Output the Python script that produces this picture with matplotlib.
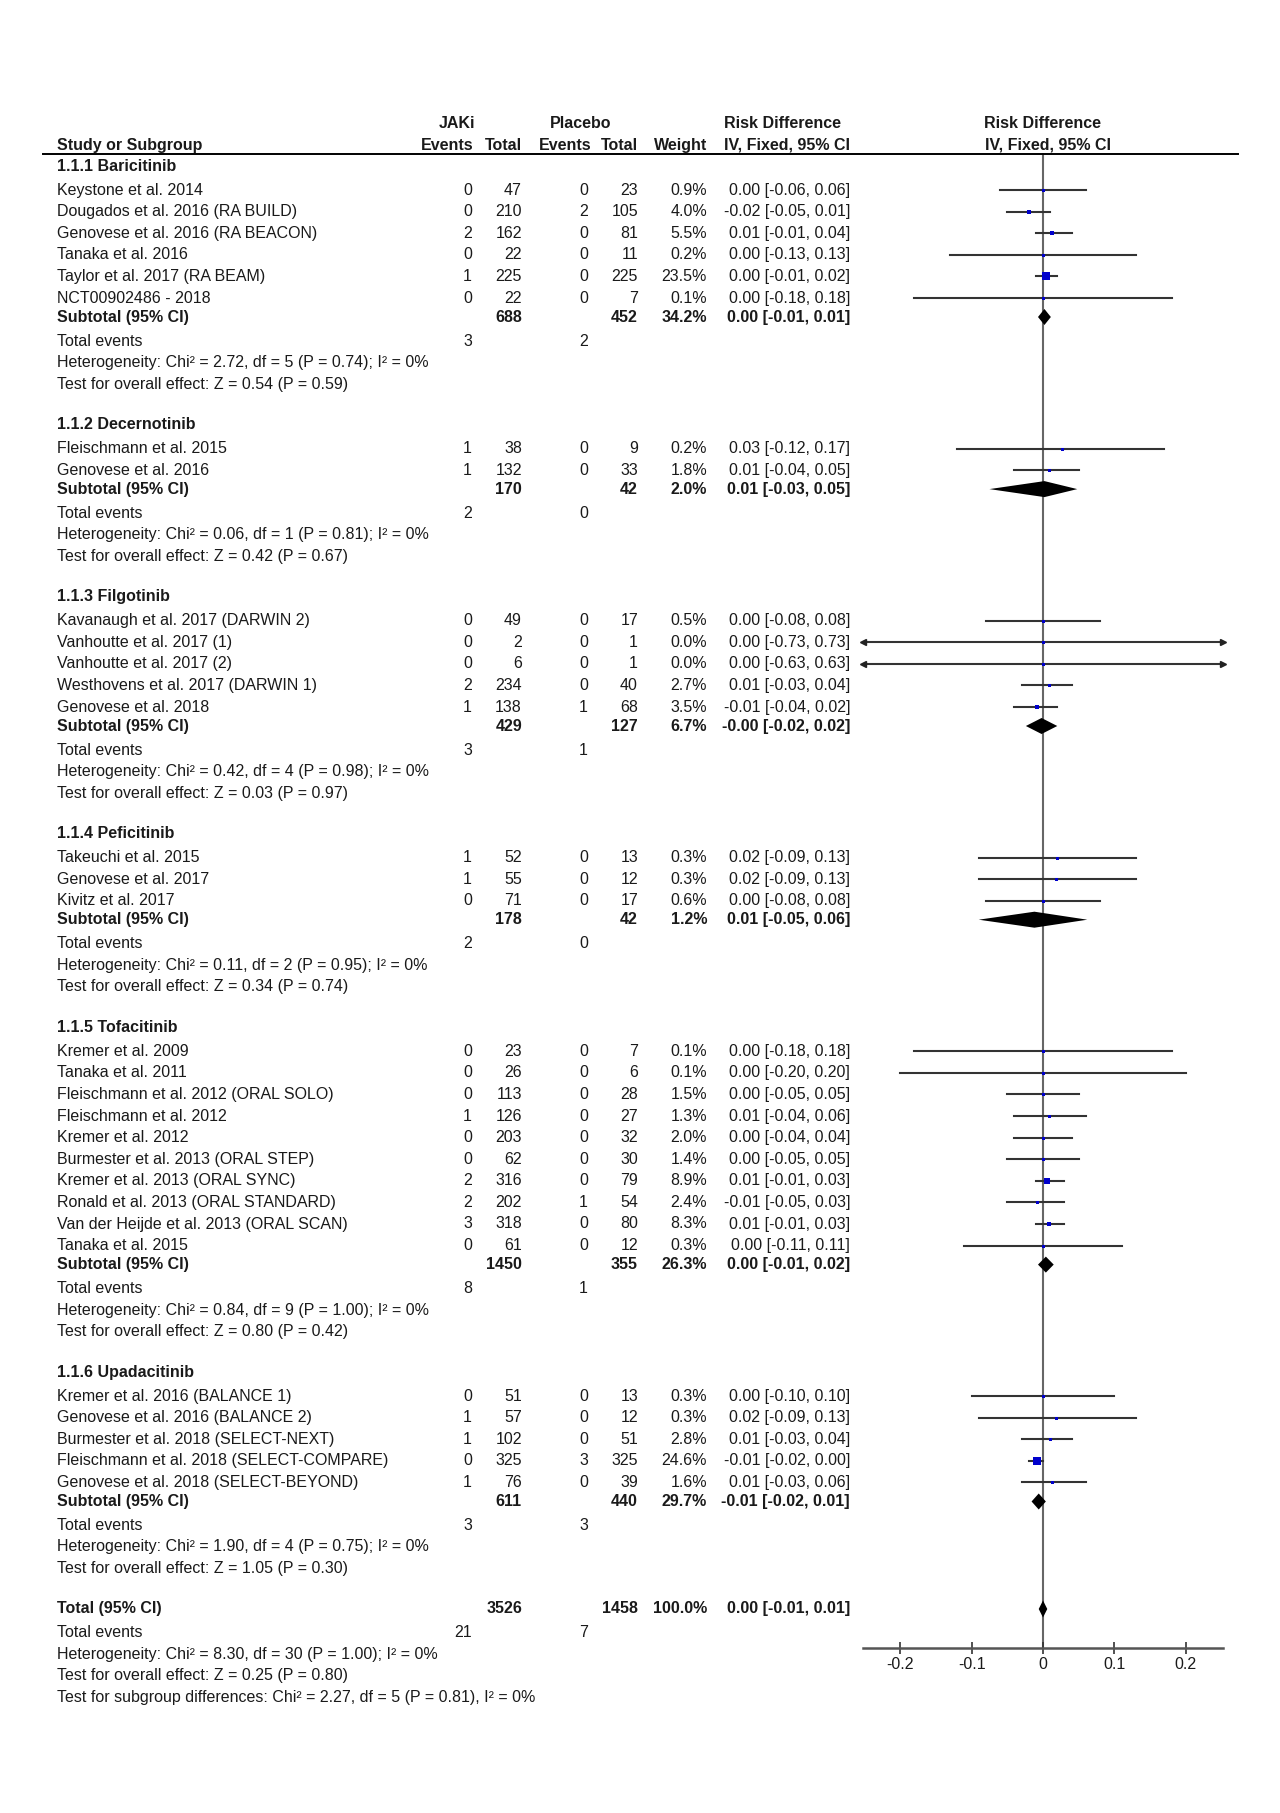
import matplotlib.pyplot as plt
import matplotlib.transforms as mtransforms
import numpy as np

plt.rcParams['font.family'] = ['Liberation Sans', 'DejaVu Sans']

# ---- data ----
group_names = ['1.1.1 Baricitinib', '1.1.2 Decernotinib', '1.1.3 Filgotinib',
               '1.1.4 Peficitinib', '1.1.5 Tofacitinib', '1.1.6 Upadacitinib']
group_sizes = [6, 2, 5, 3, 10, 5]

study_names = [
    'Keystone et al. 2014', 'Dougados et al. 2016 (RA BUILD)', 'Genovese et al. 2016 (RA BEACON)',
    'Tanaka et al. 2016', 'Taylor et al. 2017 (RA BEAM)', 'NCT00902486 - 2018',
    'Fleischmann et al. 2015', 'Genovese et al. 2016',
    'Kavanaugh et al. 2017 (DARWIN 2)', 'Vanhoutte et al. 2017 (1)', 'Vanhoutte et al. 2017 (2)',
    'Westhovens et al. 2017 (DARWIN 1)', 'Genovese et al. 2018',
    'Takeuchi et al. 2015', 'Genovese et al. 2017', 'Kivitz et al. 2017',
    'Kremer et al. 2009', 'Tanaka et al. 2011', 'Fleischmann et al. 2012 (ORAL SOLO)',
    'Fleischmann et al. 2012', 'Kremer et al. 2012', 'Burmester et al. 2013 (ORAL STEP)',
    'Kremer et al. 2013 (ORAL SYNC)', 'Ronald et al. 2013 (ORAL STANDARD)',
    'Van der Heijde et al. 2013 (ORAL SCAN)', 'Tanaka et al. 2015',
    'Kremer et al. 2016 (BALANCE 1)', 'Genovese et al. 2016 (BALANCE 2)',
    'Burmester et al. 2018 (SELECT-NEXT)', 'Fleischmann et al. 2018 (SELECT-COMPARE)',
    'Genovese et al. 2018 (SELECT-BEYOND)',
]
jak_events = [0, 0, 2, 0, 1, 0, 1, 1, 0, 0, 0, 2, 1, 1, 1, 0,
              0, 0, 0, 1, 0, 0, 2, 2, 3, 0, 0, 1, 1, 0, 1]
jak_totals = [47, 210, 162, 22, 225, 22, 38, 132, 49, 2, 6, 234, 138, 52, 55, 71,
              23, 26, 113, 126, 203, 62, 316, 202, 318, 61, 51, 57, 102, 325, 76]
pla_events = [0, 2, 0, 0, 0, 0, 0, 0, 0, 0, 0, 0, 1, 0, 0, 0,
              0, 0, 0, 0, 0, 0, 0, 1, 0, 0, 0, 0, 0, 3, 0]
pla_totals = [23, 105, 81, 11, 225, 7, 9, 33, 17, 1, 1, 40, 68, 13, 12, 17,
              7, 6, 28, 27, 32, 30, 79, 54, 80, 12, 13, 12, 51, 325, 39]
weights = [0.9, 4.0, 5.5, 0.2, 23.5, 0.1, 0.2, 1.8, 0.5, 0.0, 0.0, 2.7, 3.5, 0.3, 0.3, 0.6,
           0.1, 0.1, 1.5, 1.3, 2.0, 1.4, 8.9, 2.4, 8.3, 0.3, 0.3, 0.3, 2.8, 24.6, 1.6]
rd = [0.00, -0.02, 0.01, 0.00, 0.00, 0.00, 0.03, 0.01, 0.00, 0.00, 0.00, 0.01, -0.01,
      0.02, 0.02, 0.00, 0.00, 0.00, 0.00, 0.01, 0.00, 0.00, 0.01, -0.01, 0.01, 0.00,
      0.00, 0.02, 0.01, -0.01, 0.01]
ci_lo = [-0.06, -0.05, -0.01, -0.13, -0.01, -0.18, -0.12, -0.04, -0.08, -0.73, -0.63, -0.03, -0.04,
         -0.09, -0.09, -0.08, -0.18, -0.20, -0.05, -0.04, -0.04, -0.05, -0.01, -0.05, -0.01, -0.11,
         -0.10, -0.09, -0.03, -0.02, -0.03]
ci_hi = [0.06, 0.01, 0.04, 0.13, 0.02, 0.18, 0.17, 0.05, 0.08, 0.73, 0.63, 0.04, 0.02,
         0.13, 0.13, 0.08, 0.18, 0.20, 0.05, 0.06, 0.04, 0.05, 0.03, 0.03, 0.03, 0.11,
         0.10, 0.13, 0.04, 0.00, 0.06]
# marker positions as seen in the plot (unrounded)
rd_point = [0.000, -0.019, 0.012, 0.000, 0.004, 0.000, 0.026, 0.008, 0.000, 0.000, 0.000,
            0.009, -0.008, 0.019, 0.018, 0.000, 0.000, 0.000, 0.000, 0.008, 0.000, 0.000,
            0.006, -0.009, 0.009, 0.000, 0.000, 0.018, 0.010, -0.009, 0.013]

sub_jak_totals = [688, 170, 429, 178, 1450, 611]
sub_pla_totals = [452, 42, 127, 42, 355, 440]
sub_jak_events = [3, 2, 3, 2, 8, 3]
sub_pla_events = [2, 0, 1, 0, 1, 3]
sub_weights = [34.2, 2.0, 6.7, 1.2, 26.3, 29.7]
sub_rd = [0.00, 0.01, -0.0, 0.01, 0.00, -0.01]
sub_lo = [-0.01, -0.03, -0.02, -0.05, -0.01, -0.02]
sub_hi = [0.01, 0.05, 0.02, 0.06, 0.02, 0.01]
# diamond extents as drawn in the picture
dia_lo = [-0.007, -0.075, -0.024, -0.09, -0.007, -0.016]
dia_mid = [0.002, 0.002, -0.002, -0.012, 0.004, -0.006]
dia_hi = [0.011, 0.048, 0.020, 0.062, 0.015, 0.004]
het_chi = [2.72, 0.06, 0.42, 0.11, 0.84, 1.90]
het_df = [5, 1, 4, 2, 9, 4]
het_p = [0.74, 0.81, 0.98, 0.95, 1.00, 0.75]
het_i2 = [0, 0, 0, 0, 0, 0]
z_vals = [0.54, 0.42, 0.03, 0.34, 0.80, 1.05]
z_p = [0.59, 0.67, 0.97, 0.74, 0.42, 0.30]

tot_jak, tot_pla = 3526, 1458
tot_jak_ev, tot_pla_ev = 21, 7
tot_weight = 100.0
tot_rd, tot_lo, tot_hi = 0.00, -0.01, 0.01
tot_dia = (-0.006, 0.000, 0.006)
tot_chi, tot_df, tot_p, tot_i2 = 8.30, 30, 1.00, 0
tot_z, tot_zp = 0.25, 0.80
sg_chi, sg_df, sg_p, sg_i2 = 2.27, 5, 0.81, 0

xticks = [-0.2, -0.1, 0, 0.1, 0.2]
xticklabels = ['-0.2', '-0.1', '0', '0.1', '0.2']

# ---- layout (pixel units) ----
W, H = 1280, 1813
FS = 11.5
TXT = '#1a1a1a'
COL_NAME, COL_JE, COL_JT, COL_PE, COL_PT, COL_W, COL_RD = 57, 472, 522, 588, 638, 707, 850

fig = plt.figure(figsize=(W / 100, H / 100), dpi=100)
ax_top, ax_bot = 153, 1648
ax = fig.add_axes([863 / W, 1 - ax_bot / H, 360 / W, (ax_bot - ax_top) / H])
ax.set_xlim(-0.252, 0.252)
ax.set_ylim(ax_bot, ax_top)
tr = mtransforms.blended_transform_factory(fig.transFigure, ax.transData)


def put(x, y, s, ha='left', bold=False):
    ax.text(x / W, y, s, transform=tr, ha=ha, va='center', fontsize=FS,
            fontweight='bold' if bold else 'normal', color=TXT, clip_on=False)


def diamond(y, lo, mid, hi, h=8):
    ax.fill([lo, mid, hi, mid], [y, y - h, y, y + h], color='black', lw=0, zorder=4)


def stats_rows(y, je, pe, chi, df, p, i2, z, zp):
    put(COL_NAME, y, 'Total events')
    put(COL_JE, y, str(je), ha='right')
    put(COL_PE, y, str(pe), ha='right')
    y += 21.5
    put(COL_NAME, y, f'Heterogeneity: Chi\u00b2 = {chi:.2f}, df = {df} (P = {p:.2f}); I\u00b2 = {i2}%')
    y += 21.5
    put(COL_NAME, y, f'Test for overall effect: Z = {z:.2f} (P = {zp:.2f})')
    return y


# header
put(457, 123, 'JAKi', ha='center', bold=True)
put(581, 123, 'Placebo', ha='center', bold=True)
put(782, 123, 'Risk Difference', ha='center', bold=True)
put(1042, 123, 'Risk Difference', ha='center', bold=True)
put(COL_NAME, 145, 'Study or Subgroup', bold=True)
put(474, 145, 'Events', ha='right', bold=True)
put(COL_JT, 145, 'Total', ha='right', bold=True)
put(591, 145, 'Events', ha='right', bold=True)
put(COL_PT, 145, 'Total', ha='right', bold=True)
put(COL_W, 145, 'Weight', ha='right', bold=True)
put(787, 145, 'IV, Fixed, 95% CI', ha='center', bold=True)
put(1048, 145, 'IV, Fixed, 95% CI', ha='center', bold=True)
ax.plot([43 / W, 1238 / W], [153.5, 153.5], transform=tr, color='black', lw=1.4, clip_on=False)

xmin, xmax = ax.get_xlim()
y = 166
i = 0
for g, n in enumerate(group_sizes):
    put(COL_NAME, y, group_names[g], bold=True)
    y += 24
    for k in range(n):
        if k > 0:
            y += 21.6
        put(COL_NAME, y, study_names[i])
        put(COL_JE, y, str(jak_events[i]), ha='right')
        put(COL_JT, y, str(jak_totals[i]), ha='right')
        put(COL_PE, y, str(pla_events[i]), ha='right')
        put(COL_PT, y, str(pla_totals[i]), ha='right')
        put(COL_W, y, f'{weights[i]:.1f}%', ha='right')
        put(COL_RD, y, f'{rd[i]:.2f} [{ci_lo[i]:.2f}, {ci_hi[i]:.2f}]', ha='right')
        lo, hi = max(ci_lo[i], xmin), min(ci_hi[i], xmax)
        ax.plot([lo, hi], [y, y], color='#333333', lw=1.5, zorder=2)
        if ci_lo[i] < xmin:
            ax.plot(lo, y, marker='<', ms=5, color='#222222', clip_on=False, zorder=3)
        if ci_hi[i] > xmax:
            ax.plot(hi, y, marker='>', ms=5, color='#222222', clip_on=False, zorder=3)
        side = max(3.0, 1.7 * np.sqrt(weights[i]))
        ax.plot(rd_point[i], y, marker='s', ms=side * 0.72, color='#0000cc', mew=0, zorder=4)
        i += 1
    y += 19
    put(COL_NAME, y, 'Subtotal (95% CI)', bold=True)
    put(COL_JT, y, str(sub_jak_totals[g]), ha='right', bold=True)
    put(COL_PT, y, str(sub_pla_totals[g]), ha='right', bold=True)
    put(COL_W, y, f'{sub_weights[g]:.1f}%', ha='right', bold=True)
    put(COL_RD, y, f'{sub_rd[g]:.2f} [{sub_lo[g]:.2f}, {sub_hi[g]:.2f}]', ha='right', bold=True)
    diamond(y, dia_lo[g], dia_mid[g], dia_hi[g])
    y += 24
    y = stats_rows(y, sub_jak_events[g], sub_pla_events[g], het_chi[g], het_df[g], het_p[g],
                   het_i2[g], z_vals[g], z_p[g])
    y += 40.5

# overall
put(COL_NAME, y, 'Total (95% CI)', bold=True)
put(COL_JT, y, str(tot_jak), ha='right', bold=True)
put(COL_PT, y, str(tot_pla), ha='right', bold=True)
put(COL_W, y, f'{tot_weight:.1f}%', ha='right', bold=True)
put(COL_RD, y, f'{tot_rd:.2f} [{tot_lo:.2f}, {tot_hi:.2f}]', ha='right', bold=True)
diamond(y, *tot_dia, h=8.5)
y += 24
y = stats_rows(y, tot_jak_ev, tot_pla_ev, tot_chi, tot_df, tot_p, tot_i2, tot_z, tot_zp)
y += 21.5
put(COL_NAME, y, f'Test for subgroup differences: Chi\u00b2 = {sg_chi:.2f}, df = {sg_df} '
                 f'(P = {sg_p:.2f}), I\u00b2 = {sg_i2}%')

# axis styling
ax.axvline(0, color='#666666', lw=1.5, zorder=1)
for s in ['left', 'right', 'top']:
    ax.spines[s].set_visible(False)
ax.spines['bottom'].set_color('#555555')
ax.spines['bottom'].set_linewidth(1.8)
ax.set_yticks([])
ax.set_xticks(xticks)
ax.set_xticklabels(xticklabels)
ax.tick_params(axis='x', direction='inout', length=9, width=1.2, color='#333333',
               labelsize=FS, labelcolor=TXT, pad=2)
ax.patch.set_alpha(0)

fig.savefig('out.png', dpi=100, facecolor='white')
